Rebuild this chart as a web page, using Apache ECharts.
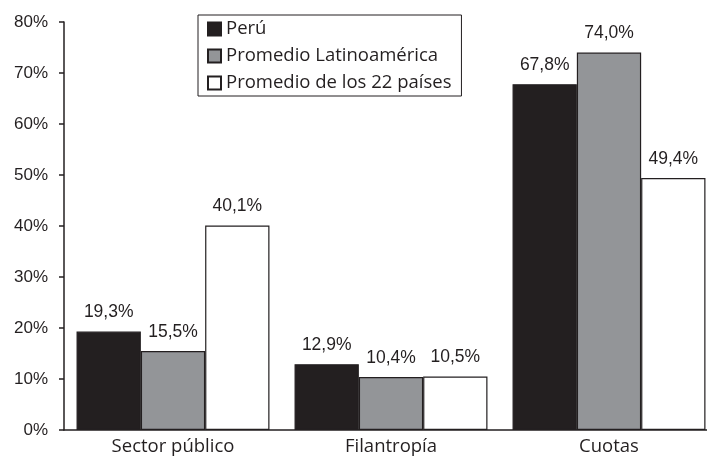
<!DOCTYPE html>
<html><head><meta charset="utf-8">
<script src="https://cdn.jsdelivr.net/npm/echarts@6/dist/echarts.min.js"></script>
<style>html,body{margin:0;padding:0;background:#fff;overflow:hidden;width:707px;height:458px}#c{width:718px;height:458px}</style>
</head><body><div id="c"></div>
<script>
var categories = ['Sector público', 'Filantropía', 'Cuotas'];
var seriesNames = ['Perú', 'Promedio Latinoamérica', 'Promedio de los 22 países'];
var peru = [19.3, 12.9, 67.8];
var latam = [15.5, 10.4, 74.0];
var paises22 = [40.1, 10.5, 49.4];
var yTicks = [0, 10, 20, 30, 40, 50, 60, 70, 80];

var colors = ['#231f20', '#939598', '#ffffff'];
var dark = '#231f20';
function fmt(v){ return v.toFixed(1).replace('.', ',') + '%'; }
function mk(name, data, color){
  return {
    name: name, type: 'bar', data: data,
    barGap: '0%', barCategoryGap: '11.5%',
    itemStyle: {color: color, borderColor: dark, borderWidth: 1.2},
    label: {show: true, position: 'top', distance: 10, color: dark,
      fontFamily: 'Liberation Sans', fontSize: 17.5,
      formatter: function(p){ return fmt(p.value); }}
  };
}
var chart = echarts.init(document.getElementById('c'), null, {renderer: 'canvas'});
chart.setOption({
  animation: false,
  backgroundColor: '#fff',
  grid: {left: 64, right: 0, top: 22, bottom: 28, containLabel: false},
  legend: {
    orient: 'vertical', left: 198, top: 15,
    data: seriesNames,
    icon: 'rect', itemWidth: 13, itemHeight: 13, itemGap: 7,
    borderColor: dark, borderWidth: 1, padding: [4, 10, 3, 9],
    textStyle: {fontFamily: 'Open Sans', fontSize: 18.5, color: dark, lineHeight: 20}
  },
  xAxis: {
    type: 'category', data: categories,
    axisLine: {lineStyle: {color: dark, width: 1.5}},
    axisTick: {show: false},
    axisLabel: {fontFamily: 'Open Sans', fontSize: 18.5, color: dark, margin: 7}
  },
  yAxis: {
    type: 'value', min: yTicks[0], max: yTicks[yTicks.length-1], interval: 10,
    axisLine: {show: true, lineStyle: {color: dark, width: 1.5}},
    axisTick: {show: true, length: 5, lineStyle: {color: dark, width: 1.5}},
    splitLine: {show: false},
    axisLabel: {fontFamily: 'Liberation Sans', fontSize: 17, color: dark, margin: 16,
      formatter: function(v){ return v + '%'; }}
  },
  series: [mk(seriesNames[0], peru, colors[0]), mk(seriesNames[1], latam, colors[1]), mk(seriesNames[2], paises22, colors[2])]
});
</script></body></html>
